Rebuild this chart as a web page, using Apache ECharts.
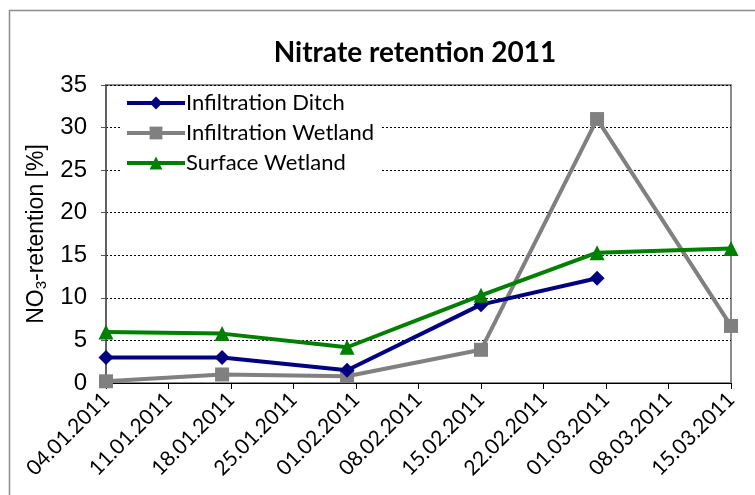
<!DOCTYPE html>
<html>
<head>
<meta charset="utf-8">
<script src="https://cdn.jsdelivr.net/npm/echarts@6/dist/echarts.min.js"></script>
<style>
  html, body { margin: 0; padding: 0; background: #fff; }
  #chart { width: 755px; height: 495px; }
</style>
</head>
<body>
<div id="chart"></div>
<script>
// Sampling dates (dd.mm.yyyy) and nitrate retention in percent
const sampleDates = ['04.01.2011', '17.01.2011', '31.01.2011', '15.02.2011', '28.02.2011', '15.03.2011'];
const ditchValues = [3.0, 3.0, 1.5, 9.2, 12.3, null];
const wetlandValues = [0.2, 1.0, 0.8, 3.9, 31.0, 6.7];
const surfaceValues = [6.0, 5.8, 4.2, 10.3, 15.3, 15.8];

// Axis range and tick spacing
const startDate = '04.01.2011';
const endDate = '15.03.2011';
const tickDays = 7;
const yTicks = [0, 5, 10, 15, 20, 25, 30, 35];

const DAY = 86400000;
function parseDate(s) {
  const [d, m, y] = s.split('.').map(Number);
  return Date.UTC(y, m - 1, d);
}
const origin = parseDate(startDate);
function dayOffset(s) { return Math.round((parseDate(s) - origin) / DAY); }
function offsetLabel(v) {
  const dt = new Date(origin + v * DAY);
  const p = n => String(n).padStart(2, '0');
  return p(dt.getUTCDate()) + '.' + p(dt.getUTCMonth() + 1) + '.' + dt.getUTCFullYear();
}
function pairs(values) {
  return sampleDates.map((d, i) => [dayOffset(d), values[i]]).filter(p => p[1] !== null);
}

const calibriLike = 'Lato, "Open Sans", sans-serif';
const arialLike = '"Liberation Sans", Arial, sans-serif';

const chart = echarts.init(document.getElementById('chart'), null, { renderer: 'canvas' });
chart.setOption({
  animation: false,
  backgroundColor: '#fff',
  graphic: [{
    type: 'rect',
    shape: { x: 9.5, y: 10.5, width: 800, height: 600 },
    style: { fill: 'none', stroke: '#8c8c8c', lineWidth: 1.5 },
    silent: true, z: -1
  }],
  title: {
    text: 'Nitrate retention 2011',
    left: 410, top: 34, textAlign: 'center',
    textStyle: { fontFamily: calibriLike, fontWeight: 'bold', fontSize: 28, color: '#000' }
  },
  legend: {
    orient: 'vertical',
    left: 121, top: 90,
    itemWidth: 58, itemHeight: 16, itemGap: 8,
    backgroundColor: '#fff',
    padding: [2, 6, 4, 4],
    lineStyle: { width: 4 },
    textStyle: { fontFamily: calibriLike, fontSize: 22, color: '#000', padding: [0, 0, 0, -4] },
    data: ['Infiltration Ditch', 'Infiltration Wetland', 'Surface Wetland']
  },
  grid: { left: 106, right: 24, top: 85, bottom: 112, containLabel: false, show: true, borderColor: '#8c8c8c', borderWidth: 2 },
  xAxis: {
    type: 'value',
    min: 0, max: dayOffset(endDate), interval: tickDays,
    axisLine: { show: true, lineStyle: { color: '#000', width: 1 } },
    axisTick: { show: true, length: 6, lineStyle: { color: '#000' } },
    splitLine: { show: false },
    axisLabel: {
      rotate: 45, margin: 13, fontFamily: calibriLike, fontSize: 21, color: '#000',
      formatter: v => offsetLabel(v)
    }
  },
  yAxis: {
    type: 'value',
    min: yTicks[0], max: yTicks[yTicks.length - 1], interval: yTicks[1] - yTicks[0],
    name: 'NO{sub|3}-retention [%]',
    nameLocation: 'middle', nameGap: 55, nameRotate: 90,
    nameTextStyle: {
      fontFamily: arialLike, fontSize: 23, color: '#000',
      rich: { sub: { fontFamily: arialLike, fontSize: 15, color: '#000', padding: [11, 0, 0, 0] } }
    },
    axisLine: { show: true, lineStyle: { color: '#555', width: 1.5 } },
    axisTick: { show: true, length: 5, lineStyle: { color: '#555' } },
    axisLabel: { margin: 19, fontFamily: arialLike, fontSize: 24, color: '#000' },
    splitLine: {
      show: true,
      lineStyle: { color: '#000', width: 1, type: [2, 2] }
    }
  },
  series: [
    {
      name: 'Infiltration Ditch', type: 'line', data: pairs(ditchValues),
      symbol: 'diamond', symbolSize: 15, showAllSymbol: true,
      itemStyle: { color: '#000080' }, lineStyle: { color: '#000080', width: 4 }, z: 3
    },
    {
      name: 'Infiltration Wetland', type: 'line', data: pairs(wetlandValues),
      symbol: 'rect', symbolSize: 14,
      itemStyle: { color: '#808080' }, lineStyle: { color: '#808080', width: 4 }, z: 2
    },
    {
      name: 'Surface Wetland', type: 'line', data: pairs(surfaceValues),
      symbol: 'triangle', symbolSize: 15,
      itemStyle: { color: '#008000' }, lineStyle: { color: '#008000', width: 4 }, z: 4
    }
  ]
});
</script>
</body>
</html>
